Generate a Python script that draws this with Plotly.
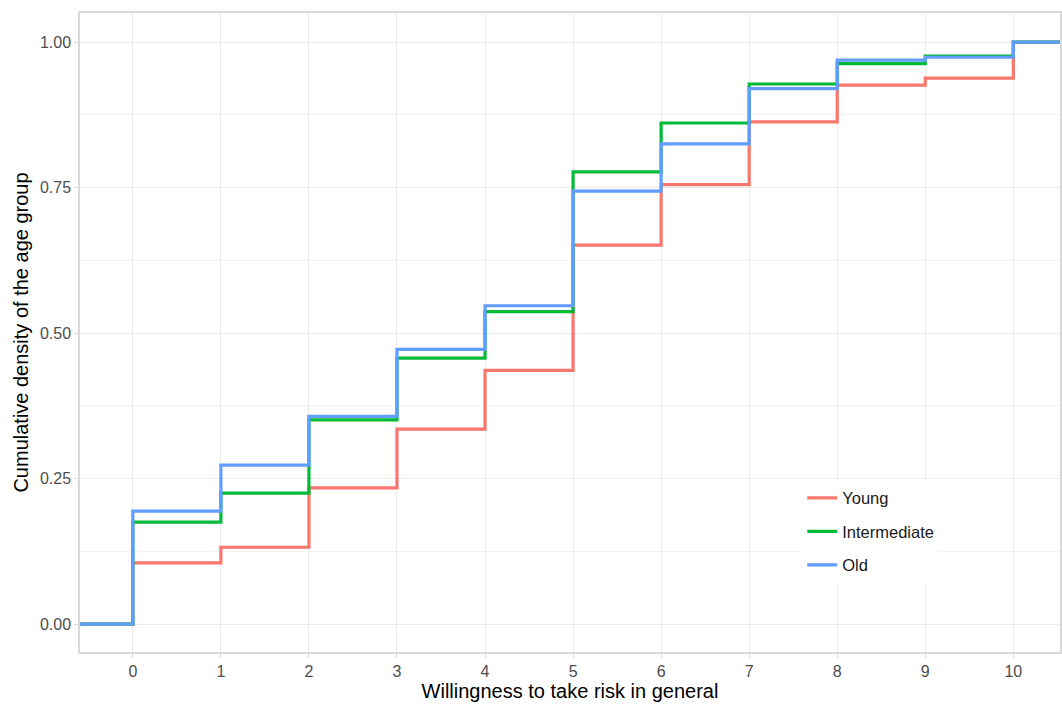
import plotly.graph_objects as go

# Willingness to take risk (0..10) and cumulative density per age group
risk_levels = [0, 1, 2, 3, 4, 5, 6, 7, 8, 9, 10]
young = [0.105, 0.132, 0.234, 0.335, 0.436, 0.651, 0.755, 0.863, 0.926, 0.938, 1.0]
intermediate = [0.175, 0.225, 0.351, 0.457, 0.537, 0.777, 0.861, 0.928, 0.963, 0.976, 1.0]
old = [0.194, 0.273, 0.357, 0.472, 0.547, 0.744, 0.825, 0.920, 0.969, 0.974, 1.0]

groups = ["Young", "Intermediate", "Old"]
series = [young, intermediate, old]
colors = ["#F8766D", "#00BA38", "#619CFF"]

x_lo, x_hi = -0.6, 10.53

fig = go.Figure()
for name, vals, col in zip(groups, series, colors):
    xs = [x_lo - 1] + risk_levels + [x_hi + 1]
    ys = [0.0] + vals + [vals[-1]]
    fig.add_trace(go.Scatter(
        x=xs, y=ys, mode="lines", name=name, legendgroup=name,
        line=dict(color=col, width=3.2, shape="hv"),
        hoverinfo="skip",
    ))

axis_common = dict(
    showline=True, linecolor="#D9D9D9", linewidth=1.5, mirror=True,
    gridcolor="#EBEBEB", gridwidth=1, zeroline=False,
    ticks="outside", ticklen=4, tickcolor="#D9D9D9",
    tickfont=dict(family="Liberation Sans, Arial, sans-serif", size=16, color="#4D4D4D"),
)

fig.update_layout(
    width=1062, height=705,
    margin=dict(l=80, r=0, t=13, b=53),
    paper_bgcolor="white", plot_bgcolor="white",
    font=dict(family="Liberation Sans, Arial, sans-serif"),
    xaxis=dict(
        range=[x_lo, x_hi], tickmode="array", tickvals=risk_levels,
        ticktext=[str(v) for v in risk_levels],
        title=dict(text="Willingness to take risk in general",
                   font=dict(size=20, color="black"), standoff=4),
        **axis_common,
    ),
    yaxis=dict(
        range=[-0.048, 1.05], tickmode="array",
        tickvals=[0, 0.25, 0.5, 0.75, 1.0],
        ticktext=["0.00", "0.25", "0.50", "0.75", "1.00"],
        minor=dict(tickmode="array", tickvals=[0.125, 0.375, 0.625, 0.875],
                   showgrid=True, gridcolor="#F3F3F3", gridwidth=1, ticks=""),
        title=dict(text="Cumulative density of the age group",
                   font=dict(size=20, color="black"), standoff=6),
        **axis_common,
    ),
    legend=dict(
        x=0.737, y=0.268, xanchor="left", yanchor="top",
        bgcolor="white", borderwidth=0,
        font=dict(family="Liberation Sans, Arial, sans-serif", size=16.5, color="#1A1A1A"),
        tracegroupgap=9,
        itemwidth=30,
    ),
)

fig.write_html("out.html", config={"displayModeBar": False},
               post_script="document.body.style.margin='0';document.body.style.overflow='hidden';")
